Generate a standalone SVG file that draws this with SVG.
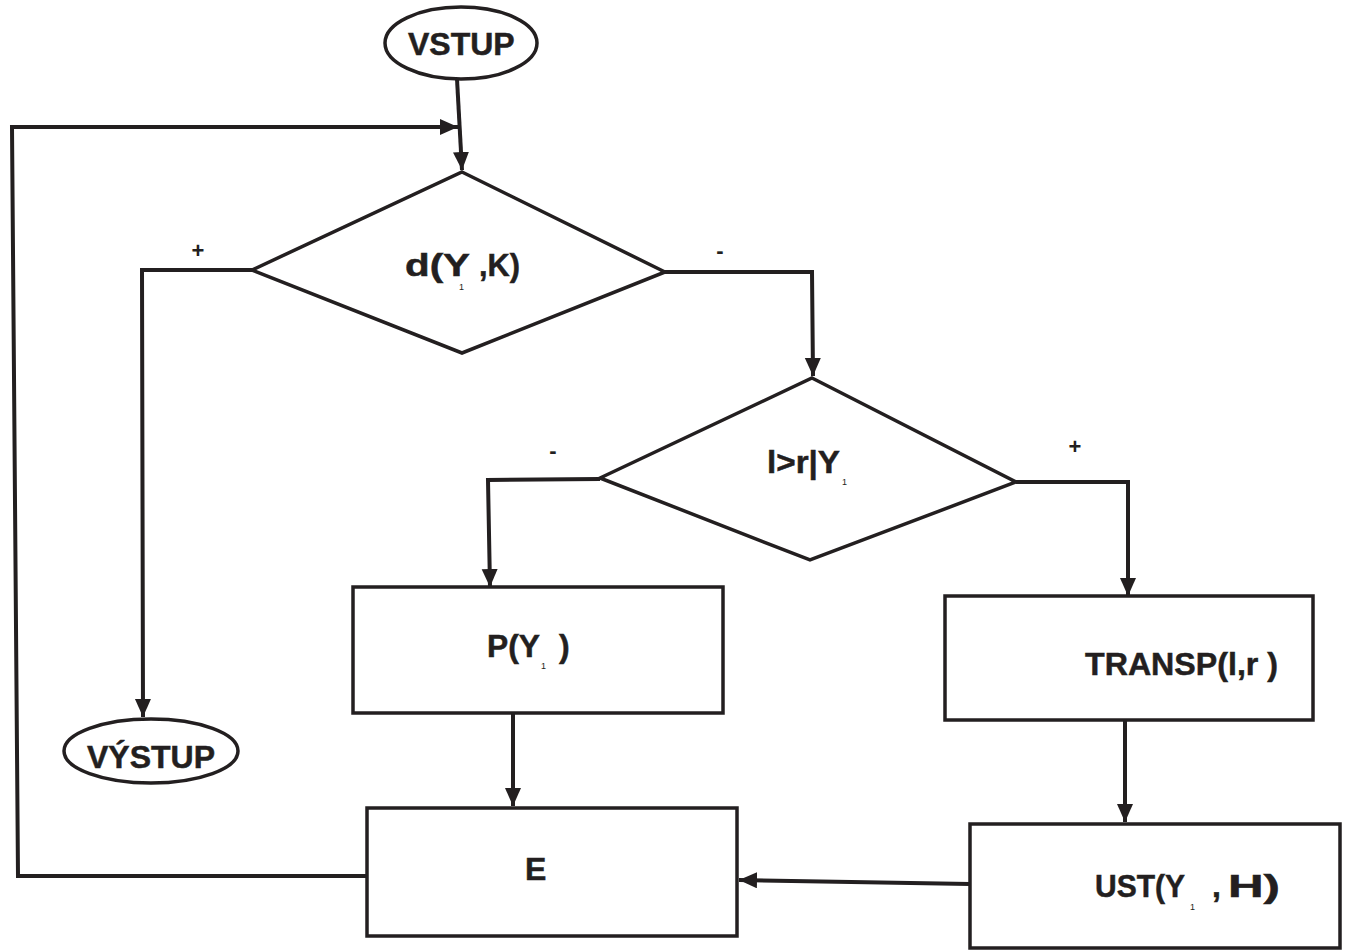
<svg xmlns="http://www.w3.org/2000/svg" width="1352" height="951" viewBox="0 0 1352 951">
  <style>
    .shape { fill: #ffffff; stroke: #231f20; stroke-width: 3.5; }
    .wire { fill: none; stroke: #231f20; stroke-width: 4; stroke-linejoin: miter; }
    .lbl { font-family: "Liberation Sans", Arial, sans-serif; font-weight: bold; fill: #231f20; stroke: #231f20; stroke-width: 0.5; font-size: 32px; }
    .sub { font-family: "Liberation Sans", Arial, sans-serif; fill: #231f20; font-size: 9px; }
    .sign { font-family: "Liberation Sans", Arial, sans-serif; font-weight: bold; fill: #231f20; font-size: 22px; text-anchor: middle; }
  </style>
  <defs>
    <marker id="arrow" markerUnits="userSpaceOnUse" markerWidth="20" markerHeight="18" refX="18" refY="8" orient="auto">
      <path d="M0,0 L18,8 L0,16 Z" fill="#231f20"/>
    </marker>
  </defs>

  <!-- connectors -->
  <g id="connectors">
    <path class="wire" d="M457,79 L462,170" marker-end="url(#arrow)"/>
    <path class="wire" d="M367,876 L18,876 L12,127 L458,127" marker-end="url(#arrow)"/>
    <path class="wire" d="M252,270 L142,270 L143,717" marker-end="url(#arrow)"/>
    <path class="wire" d="M665,272 L812,272 L813,376" marker-end="url(#arrow)"/>
    <path class="wire" d="M600,479 L488,480 L490,587" marker-end="url(#arrow)"/>
    <path class="wire" d="M1016,482 L1128,482 L1128,596" marker-end="url(#arrow)"/>
    <path class="wire" d="M513,713 L513,806" marker-end="url(#arrow)"/>
    <path class="wire" d="M1125,721 L1125,822" marker-end="url(#arrow)"/>
    <path class="wire" d="M970,884 L739,880" marker-end="url(#arrow)"/>
    <text class="sign" x="198" y="258">+</text>
    <text class="sign" x="720" y="258">-</text>
    <text class="sign" x="553" y="458">-</text>
    <text class="sign" x="1075" y="454">+</text>
  </g>

  <!-- start terminal -->
  <g id="vstup">
    <ellipse class="shape" cx="461" cy="43" rx="76" ry="36"/>
    <text class="lbl" x="408" y="55">VSTUP</text>
  </g>

  <!-- end terminal -->
  <g id="vystup">
    <ellipse class="shape" cx="151" cy="751" rx="87" ry="32"/>
    <text class="lbl" x="87" y="768">VÝSTUP</text>
  </g>

  <!-- decision d(Y1,K) -->
  <g id="decision-d">
    <polygon class="shape" points="462,172 665,272 462,353 252,270"/>
    <text class="lbl" x="405" y="276" textLength="65" lengthAdjust="spacingAndGlyphs">d(Y</text>
    <text class="sub" x="459" y="290">1</text>
    <text class="lbl" x="479" y="276" textLength="41" lengthAdjust="spacingAndGlyphs">,K)</text>
  </g>

  <!-- decision l>r|Y1 -->
  <g id="decision-lr">
    <polygon class="shape" points="812,378 1016,482 810,560 600,478"/>
    <text class="lbl" x="767" y="473" textLength="73" lengthAdjust="spacingAndGlyphs">l&gt;r|Y</text>
    <text class="sub" x="842" y="485">1</text>
  </g>

  <!-- process P(Y1) -->
  <g id="p-box">
    <rect class="shape" x="353" y="587" width="370" height="126"/>
    <text class="lbl" x="487" y="657" textLength="53" lengthAdjust="spacingAndGlyphs">P(Y</text>
    <text class="sub" x="541" y="669">1</text>
    <text class="lbl" x="559" y="657">)</text>
  </g>

  <!-- process TRANSP(l,r) -->
  <g id="transp-box">
    <rect class="shape" x="945" y="596" width="368" height="124"/>
    <text class="lbl" x="1085" y="675" textLength="193" lengthAdjust="spacingAndGlyphs">TRANSP(l,r )</text>
  </g>

  <!-- process E -->
  <g id="e-box">
    <rect class="shape" x="367" y="808" width="370" height="128"/>
    <text class="lbl" x="525" y="880">E</text>
  </g>

  <!-- process UST(Y1, H) -->
  <g id="ust-box">
    <rect class="shape" x="970" y="824" width="370" height="124"/>
    <text class="lbl" x="1095" y="897" textLength="90" lengthAdjust="spacingAndGlyphs">UST(Y</text>
    <text class="sub" x="1190" y="910">1</text>
    <text class="lbl" x="1212" y="897">,</text>
    <text class="lbl" x="1228" y="897" textLength="52" lengthAdjust="spacingAndGlyphs">H)</text>
  </g>
</svg>
